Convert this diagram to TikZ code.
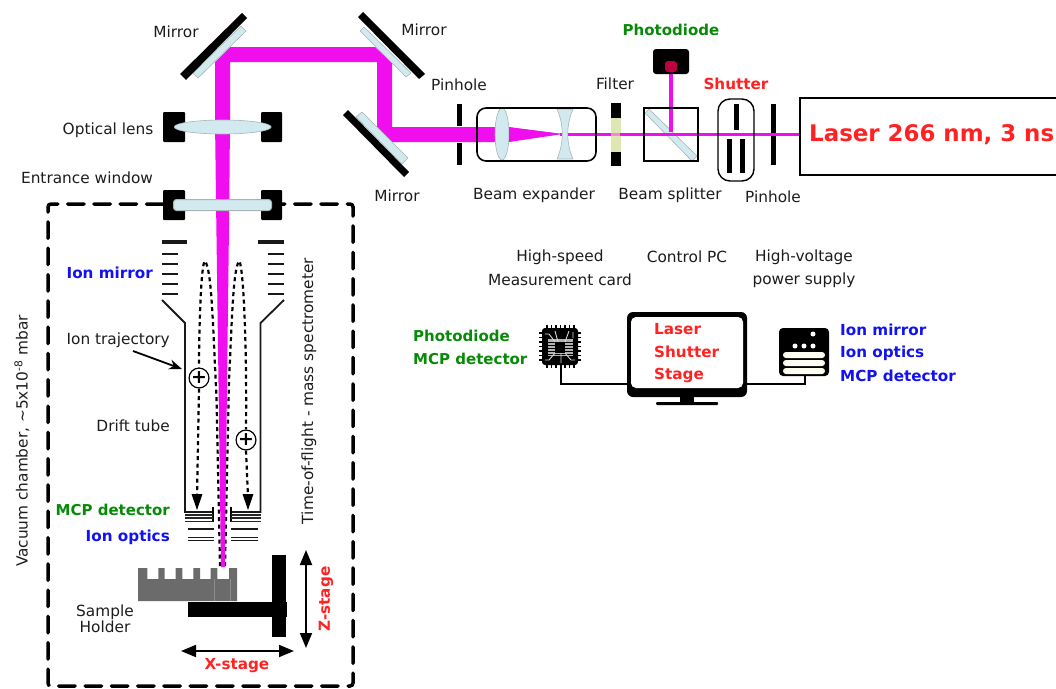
\documentclass[tikz,border=0pt]{standalone}
\usepackage{fontspec}
\setmainfont{DejaVu Sans}
\usetikzlibrary{arrows.meta}
\definecolor{beamc}{HTML}{F00EEE}
\definecolor{glassc}{HTML}{D2E9EF}
\definecolor{glassb}{HTML}{A9B5B5}
\definecolor{redt}{HTML}{FF2222}
\definecolor{greent}{HTML}{078A07}
\definecolor{bluet}{HTML}{1212F0}
\definecolor{inkt}{HTML}{1C1C1C}
\definecolor{greyc}{HTML}{6B6B6B}
\definecolor{filterc}{HTML}{E0E5B4}
\tikzset{
 lbl/.style={font=\fontsize{15.35}{16}\selectfont,text=inkt,inner sep=0pt},
 redl/.style={font=\fontsize{15.2}{18}\selectfont\bfseries,text=redt,inner sep=0pt},
 greenl/.style={font=\fontsize{15}{18}\selectfont\bfseries,text=greent,inner sep=0pt},
 bluel/.style={font=\fontsize{15.2}{18}\selectfont\bfseries,text=bluet,inner sep=0pt},
 glass/.style={fill=glassc,draw=glassb,line width=0.6pt},
 beam/.style={fill=beamc,draw=none},
 blk/.style={fill=black,draw=none},
 bigtip/.tip={Triangle[width=12pt,length=15pt]},
 traj/.style={line width=2.2pt,black,dash pattern=on 4pt off 3.5pt},
 plate/.style={line width=2pt,black!90},
 wire/.style={line width=1.8pt,black},
 ion/.style={circle,draw=black,fill=white,line width=1.2pt,minimum size=19pt,inner sep=0pt,font=\fontsize{19}{19}\selectfont\bfseries},
}
\begin{document}
\begin{tikzpicture}[x=1pt,y=-1pt]
\useasboundingbox (0,0) rectangle (1056,688);
% vacuum chamber
\draw[line width=3.5pt,black,line cap=round,dash pattern=on 16.5pt off 9.8pt,rounded corners=3pt] (163,204) -- (48,204) -- (48,686) -- (353,686) -- (353,204) -- (272,204);
% trajectories
\node[ion] (ionA) at (199,378) {+};
\node[ion] (ionB) at (246,440) {+};
\coordinate (tipA) at (197,510);
\coordinate (tipB) at (248,510);
\coordinate (startA) at (220,566);
\coordinate (startB) at (225,566);
\draw[traj] (startA) -- (216.5,397) .. controls (213,330) and (212,270) .. (205,261) .. controls (201,262) and (199,330) .. (ionA.north);
\draw[traj] (startB) -- (229,380) .. controls (232,320) and (233,270) .. (239,261) .. controls (243,262) and (247,340) .. (ionB.north);
\draw[traj] (ionA.south) -- (197,497);
\draw[traj] (ionB.south) -- (248,497);
\path[blk] (191.5,494) -- (202.5,494) -- (tipA) -- cycle;
\path[blk] (242.5,494) -- (253.5,494) -- (tipB) -- cycle;
% beams
\path[beam] (230,47) -- (375,47) -- (392,63) -- (392,127) -- (495,127) -- (495,142) -- (392,142) -- (377,127) -- (377,62) -- (230,62) -- (230,120) -- (229.3,200) -- (224.8,567) -- (221,567) -- (216,200) -- (215,120) -- (215,62) -- cycle;
\path[beam] (505,127) -- (562,134) -- (505,142) -- cycle;
\path[beam] (560,132.8) rectangle (803,136.2);
\path[beam] (669.2,72) rectangle (673,132);
% mirror 1
\draw[glass] (198,78) -- (246,31) -- (241,26) -- (193,73) -- cycle;
\path[blk] (180,74) -- (242,13) -- (247,18) -- (186,80) -- cycle;
% mirror 2
\draw[glass] (364,27) -- (360,31) -- (406,77) -- (411,73) -- cycle;
\path[blk] (358,17) -- (363,12) -- (425,74) -- (419,79) -- cycle;
% mirror 3
\draw[glass] (362,112) -- (408,158) -- (402,164) -- (356,117) -- cycle;
\path[blk] (343,115) -- (348,110) -- (409,172) -- (404,177) -- cycle;
% lens mounts
\path[blk,rounded corners=1pt] (163,112) rectangle (185,142);
\path[blk,rounded corners=1pt] (261,112) rectangle (282,142);
\path[blk,rounded corners=1pt] (163,190) rectangle (185,220);
\path[blk,rounded corners=1pt] (261,190) rectangle (282,220);
\draw[glass] (222.7,127) ellipse [x radius=48.5,y radius=7];
\draw[glass,rounded corners=3pt,line width=1pt] (173.5,199.5) rectangle (271.5,210.5);
% pinhole 1
\path[blk] (457,104) rectangle (462,126);
\path[blk] (457,143) rectangle (462,165);
% beam expander
\draw[glass] (502,134) ellipse [x radius=7,y radius=26];
\path[beam] (509,127) -- (562,134) -- (509,142) -- cycle;
\path[fill=glassc,draw=glassb,line width=0.6pt] (557,109) .. controls (564,125) and (564,143) .. (557,159) -- (573,159) .. controls (566,143) and (566,125) .. (573,109) -- cycle;
\path[beam] (568,132.8) rectangle (612,136.2);
\node[draw=black,line width=1.6pt,rounded corners=9pt,minimum width=119pt,minimum height=53pt,inner sep=0pt] (expander) at (536.5,134.5) {};
% filter
\path[blk] (611,103) rectangle (621,118);
\path[blk] (611,152) rectangle (621,166);
\path[fill=filterc] (611,118) rectangle (621,152);
\path[fill=beamc,opacity=.4] (611,132.8) rectangle (621,136.2);
% beam splitter
\path[glass] (649,109) -- (645,113) -- (692,161) -- (697,156) -- cycle;
\path[beam] (620,132.8) rectangle (803,136.2);
\path[beam] (669.2,72) rectangle (673,132);
\node[draw=black,line width=1.4pt,minimum width=54pt,minimum height=53pt,inner sep=0pt] (splitter) at (671,134.5) {};
% photodiode
\path[blk,rounded corners=3pt] (653,49) rectangle (689,74);
\path[fill=red!75!blue,rounded corners=3pt] (665,61) rectangle (677,72);
% shutter
\node[draw=black,line width=1.4pt,rounded corners=12pt,minimum width=36pt,minimum height=82pt,inner sep=0pt] (shutterbox) at (736,140) {};
\path[blk] (734,104) rectangle (739,130);
\path[blk] (727,139) rectangle (732,173);
\path[blk] (740,139) rectangle (745,173);
% pinhole 2
\path[blk] (771,104) rectangle (776,165);
\path[beam] (771,132.8) rectangle (803,136.2);
% laser
\draw[line width=1.6pt,black,fill=white] (1060,98) -- (800,98) -- (800,175) -- (1060,175);
\node[anchor=west,font=\fontsize{22.9}{24}\selectfont\bfseries,text=redt,inner sep=0pt] (laser) at (809,135) {Laser 266 nm, 3 ns};
% ion mirror
\foreach \yy in {254,264,274,284,294}{
 \draw[plate] (162,\yy) -- (178,\yy);
 \draw[plate] (268,\yy) -- (284,\yy);
}
\draw[line width=4pt,black!90] (162,242) -- (187,242);
\draw[line width=4pt,black!90] (258,242) -- (284,242);
% drift tube
\draw[line width=1.8pt,black!90] (162,300) -- (185,323) -- (185,512) -- (213,512);
\draw[line width=1.8pt,black!90] (284,300) -- (260.5,323) -- (260.5,512) -- (231,512);
\draw[line width=1.6pt] (213,507) -- (213,522);
\draw[line width=1.6pt] (231,507) -- (231,522);
\foreach \yy in {515,518,521.5}{
 \draw[line width=1.5pt,black!85] (185,\yy) -- (213,\yy);
 \draw[line width=1.5pt,black!85] (231,\yy) -- (261,\yy);
}
\foreach \yy in {529,537.5,540.5}{
 \draw[line width=1.9pt,black!90] (188,\yy) -- (214,\yy);
 \draw[line width=1.9pt,black!90] (231,\yy) -- (258,\yy);
}
% sample
\path[fill=greyc] (138,568) -- (147.3,568) -- (147.3,579) -- (158.3,579) -- (158.3,568) -- (164.7,568) -- (164.7,579) -- (175.7,579) -- (175.7,568) -- (182.3,568) -- (182.3,579) -- (193.3,579) -- (193.3,568) -- (200,568) -- (200,579) -- (210.7,579) -- (210.7,568) -- (217.3,568) -- (217.3,579) -- (229,579) -- (229,568) -- (237,568) -- (237,601) -- (138,601) -- cycle;
\draw[black!45,line width=.5pt] (214.3,579) -- (214.3,601) (230.3,579) -- (230.3,601);
% stages
\path[blk] (188,602) rectangle (287,617);
\path[blk] (272,555) rectangle (286,637);
\coordinate (ztop) at (306,550);
\coordinate (zbot) at (306,648);
\coordinate (xl) at (181,651);
\coordinate (xr) at (294,651);
\draw[line width=1.8pt,{bigtip}-{bigtip}] (ztop) -- (zbot);
\draw[line width=1.8pt,{bigtip}-{bigtip}] (xl) -- (xr);
% monitor
\path[blk,rounded corners=6pt] (627,312) rectangle (747,397);
\path[fill=white,rounded corners=5pt] (631,317) rectangle (743,388);
\path[blk] (680,397) rectangle (694,402);
\path[blk,rounded corners=1pt] (656,402) rectangle (718,405);
\coordinate (monL) at (627,384);
\coordinate (monR) at (747,384);
% chip
\coordinate (chipS) at (561,365);
\coordinate (srvS) at (805,376);
\draw[wire] (chipS) |- (monL);
\draw[wire] (srvS) |- (monR);
\foreach \t in {547,551.5,556,560.5,565,569.5,574}{
 \draw[line width=1.6pt] (\t,325) -- (\t,368);
}
\foreach \t in {333,337.5,342,346.5,351,355.5,360}{
 \draw[line width=1.6pt] (539,\t) -- (581,\t);
}
\path[blk,rounded corners=3pt] (542,328) rectangle (578,365);
\path[fill=black!30] (548,339) rectangle (573,356);
\foreach \t in {342,345,348,351,354}{
 \draw[black,line width=.7pt] (548,\t) -- (573,\t);
}
\path[fill=black] (555,342) rectangle (565,353);
\draw[white!85!black,line width=.9pt] (555,342) -- (549,334) -- (545,334) (565,342) -- (569,331) (555,353) -- (549,360) -- (545,360) (565,353) -- (571,360) -- (575,360) (558,342) -- (555,331) (561,353) -- (561,363) (573,332) -- (573,338);
% server
\path[blk,rounded corners=4pt] (779,328) rectangle (829,376);
\foreach \xx/\yy in {813/334,795/346,804/346,813/346}{
 \path[fill=white] (\xx,\yy) circle [radius=2.5];
}
\foreach \yy in {355,363,371}{
 \path[fill=white!95!yellow,rounded corners=3pt] (783,\yy-3) rectangle (825,\yy+3);
}
% labels
\node[lbl] (m1) at (176,32) {Mirror};
\node[lbl] (m2) at (424,30) {Mirror};
\node[lbl] (m3) at (397,196) {Mirror};
\node[lbl] (p1) at (459,85) {Pinhole};
\node[lbl] (f1) at (615,84) {Filter};
\node[greenl] (pd) at (671,30) {Photodiode};
\node[redl] (sh) at (736,84) {Shutter};
\node[lbl] (ol) at (108,130) {Optical lens};
\node[lbl] (ew) at (87,178) {Entrance window};
\node[lbl] (be) at (534,195) {Beam expander};
\node[lbl] (bs) at (670,195) {Beam splitter};
\node[lbl] (p2) at (773,197) {Pinhole};
\node[lbl] (hs) at (560,257) {High-speed};
\node[lbl] (mc) at (560,280) {Measurement card};
\node[lbl] (pc) at (687,257) {Control PC};
\node[lbl] (hv) at (804,257) {High-voltage};
\node[lbl] (ps) at (804,280) {power supply};
\node[greenl,anchor=west] (g1) at (413,336) {Photodiode};
\node[greenl,anchor=west] (g2) at (413,359) {MCP detector};
\node[redl,anchor=west] (r1) at (654,329) {Laser};
\node[redl,anchor=west] (r2) at (654,352) {Shutter};
\node[redl,anchor=west] (r3) at (654,375) {Stage};
\node[bluel,anchor=west] (b1) at (840,330) {Ion mirror};
\node[bluel,anchor=west] (b2) at (840,353) {Ion optics};
\node[bluel,anchor=west] (b3) at (840,376) {MCP detector};
\node[bluel,anchor=east] (b4) at (153,273) {Ion mirror};
\node[lbl,anchor=east] (it) at (170,340) {Ion trajectory};
\node[lbl,anchor=east] (dt) at (170,426) {Drift tube};
\node[greenl,anchor=east] (g3) at (170,510) {MCP detector};
\node[bluel,anchor=east] (b5) at (170,537) {Ion optics};
\node[lbl,align=center] (sample) at (105,619) {Sample\\Holder};
\node[redl] (xs) at (237,666) {X-stage};
\node[redl,rotate=90] (zs) at (326,599) {Z-stage};
\node[lbl,rotate=90] (tof) at (309,391) {Time-of-flight - mass spectrometer};
\node[lbl,rotate=90] (vc) at (22,441) {Vacuum chamber, \textasciitilde5x10\textsuperscript{-8} mbar};
\coordinate (trajtip) at (182,369);
\draw[line width=1.8pt,-{Stealth[length=13pt,width=10pt]}] (133,351) -- (trajtip);
\end{tikzpicture}
\end{document}
